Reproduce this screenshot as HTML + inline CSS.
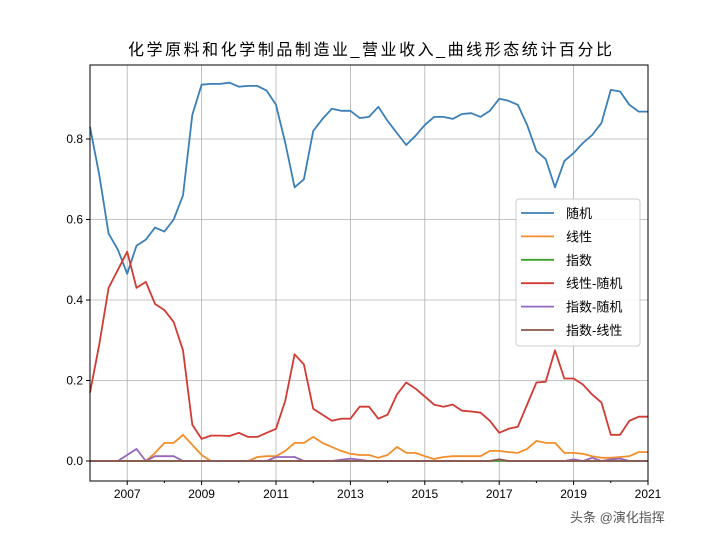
<!DOCTYPE html>
<html><head><meta charset="utf-8"><style>
body{margin:0;background:#fff;}
svg text{font-family:"Liberation Sans","Noto Sans CJK SC",sans-serif;}
</style></head><body>
<svg id="chart" width="720" height="540" xmlns="http://www.w3.org/2000/svg">
<rect width="720" height="540" fill="#fff"/>
<text x="128" y="55" textLength="484" lengthAdjust="spacing" font-size="16" fill="#000">化学原料和化学制品制造业_营业收入_曲线形态统计百分比</text>
<g id="grid"></g><g id="series"></g><g id="axes"></g>
<g id="legend"></g>
<text x="570" y="522" font-size="13" fill="#555">头条 @演化指挥</text>
</svg>
<script>
const startYear=2006, endYear=2021;
const yTicks=[0.0,0.2,0.4,0.6,0.8];
const xTickYears=[2007,2009,2011,2013,2015,2017,2019,2021];
const seriesNames=["随机","线性","指数","线性-随机","指数-随机","指数-线性"];
const seriesColors=["#3b7fb8","#f28e2b","#3ca02c","#d03b34","#9467bd","#8c564b"];
const random=[0.83,0.71,0.565,0.525,0.465,0.535,0.55,0.58,0.57,0.60,0.66,0.86,0.935,0.937,0.937,0.94,0.93,0.932,0.932,0.92,0.885,0.79,0.68,0.70,0.82,0.85,0.875,0.87,0.87,0.852,0.855,0.88,0.845,0.815,0.785,0.808,0.835,0.855,0.855,0.85,0.862,0.864,0.855,0.87,0.90,0.895,0.885,0.835,0.77,0.75,0.68,0.745,0.765,0.79,0.81,0.84,0.922,0.918,0.885,0.868,0.868];
const linear=[0,0,0,0,0,0,0,0.02,0.045,0.045,0.065,0.04,0.015,0,0,0,0,0,0.01,0.012,0.012,0.025,0.045,0.045,0.06,0.045,0.035,0.025,0.018,0.015,0.015,0.008,0.015,0.035,0.02,0.02,0.012,0.005,0.01,0.012,0.012,0.012,0.012,0.025,0.025,0.022,0.02,0.03,0.05,0.045,0.045,0.02,0.02,0.018,0.012,0.008,0.008,0.01,0.012,0.022,0.022];
const expo=new Array(61).fill(0);
const linRand=[0.17,0.29,0.43,0.475,0.52,0.43,0.445,0.39,0.375,0.345,0.275,0.09,0.055,0.063,0.063,0.062,0.07,0.06,0.06,0.07,0.08,0.15,0.265,0.24,0.13,0.115,0.10,0.105,0.105,0.135,0.135,0.105,0.115,0.165,0.195,0.18,0.16,0.14,0.135,0.14,0.125,0.123,0.12,0.10,0.07,0.08,0.085,0.14,0.195,0.197,0.275,0.205,0.205,0.19,0.165,0.145,0.065,0.065,0.10,0.11,0.11];
const expRand=[0,0,0,0,0.015,0.03,0,0.012,0.012,0.012,0,0,0,0,0,0,0,0,0,0,0.01,0.01,0.01,0,0,0,0,0.003,0.006,0.003,0,0,0,0,0,0,0,0,0,0,0,0,0,0,0.004,0,0,0,0,0,0,0,0.004,0,0.008,0,0.004,0.006,0,0,0];
const expLin=[0,0,0,0,0,0,0,0,0,0,0,0,0,0,0,0,0,0,0,0,0,0,0,0,0,0,0,0,0,0,0,0,0,0,0,0,0,0,0,0,0,0,0,0,0.004,0,0,0,0,0,0,0,0,0,0,0,0,0,0,0,0];
const allSeries=[random,linear,expo,linRand,expRand,expLin];
const L=90,R=648,T=65,B=481;
const x=t=>L+(t-startYear)/(endYear-startYear)*(R-L);
const y=v=>461-v*402.5;
const NS="http://www.w3.org/2000/svg";
function mk(tag,attrs,parent,txt){const e=document.createElementNS(NS,tag);for(const k in attrs)e.setAttribute(k,attrs[k]);if(txt!==undefined)e.textContent=txt;document.getElementById(parent).appendChild(e);return e;}
yTicks.forEach(v=>{
 const g=mk('line',{x1:L,x2:R,y1:y(v),y2:y(v),stroke:'#b0b0b0','stroke-width':0.8},'grid');
 
 
 mk('line',{x1:L-4,x2:L,y1:y(v),y2:y(v),stroke:'#000'},'axes');
 const t=mk('text',{x:L-7,y:y(v)+4,'text-anchor':'end','font-size':12},'axes',v.toFixed(1));
 
 
});
for(let yr=startYear+1;yr<=endYear;yr++){
 const major=xTickYears.includes(yr);
 if(major){const g=mk('line',{x1:x(yr),x2:x(yr),y1:T,y2:B,stroke:'#b0b0b0','stroke-width':0.8},'grid');
 
 }
 mk('line',{x1:x(yr),x2:x(yr),y1:B,y2:B+(major?4:2),stroke:'#000'},'axes');
 if(major){const t=mk('text',{x:x(yr),y:B+17,'text-anchor':'middle','font-size':12},'axes',String(yr));
 
 }
}
allSeries.forEach((s,k)=>{
 const pts=s.map((v,i)=>x(startYear+i*0.25).toFixed(1)+','+y(v).toFixed(1)).join(' ');
 const p=mk('polyline',{points:pts,fill:'none',stroke:seriesColors[k],'stroke-width':1.8,'stroke-linejoin':'round'},'series');
 
 
});
const fr=mk('rect',{x:L,y:T,width:R-L,height:B-T,fill:'none',stroke:'#000','stroke-width':1},'axes');


mk('rect',{x:516,y:199,width:124,height:147,rx:3,fill:'#fff','fill-opacity':0.85,stroke:'#ccc'},'legend');
seriesNames.forEach((n,k)=>{
 const yy=213+k*23.4;
 mk('line',{x1:521,x2:554,y1:yy,y2:yy,stroke:seriesColors[k],'stroke-width':1.8},'legend');
 const t=mk('text',{x:566,y:yy+5,'font-size':13},'legend',n);
 
 
});
</script>
</body></html>
